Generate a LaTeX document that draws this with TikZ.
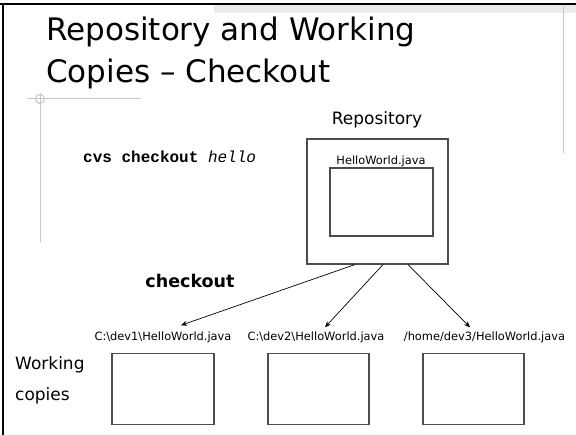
\documentclass[tikz,border=0pt]{standalone}
\usepackage{fontspec}
\setmainfont{DejaVu Sans}
\newfontfamily\monofont{Liberation Mono}
\usetikzlibrary{arrows.meta}
\tikzset{
  filebox/.style={draw=black!70, line width=1.1pt},
  deco/.style={draw=black!22, line width=1pt},
  arr/.style={draw=black, line width=0.7pt, -{Stealth[length=6pt,width=5pt]}},
  pathlbl/.style={font=\fontsize{11.4}{13}\selectfont, inner sep=0pt},
  biglbl/.style={font=\fontsize{17}{20}\selectfont, inner sep=0pt},
}
\begin{document}
\begin{tikzpicture}[x=1pt,y=-1pt]
\useasboundingbox (0,0) rectangle (576,435);
\fill[white] (0,0) rectangle (576,435);
% slide frame
\fill[black!8] (214,5) rectangle (576,13);
\draw[black, line width=2pt] (0,4) -- (576,4);
\draw[black, line width=2pt] (3,3) -- (3,435);
\draw[deco] (563,5) -- (563,153);
\draw[deco] (27,99) -- (141,99);
\draw[deco] (40,93) -- (40,242);
\draw[deco] (40,99) circle[radius=4.5];
% title
\node[anchor=base west, inner sep=0pt, font=\fontsize{31}{36}\selectfont] (t1) at (46,41) {Repository and Working};
\node[anchor=base west, inner sep=0pt, font=\fontsize{31}{36}\selectfont] (t2) at (46,83) {Copies -- Checkout};
% command
\node[anchor=west, inner sep=0pt, font=\monofont\fontsize{16}{18}\selectfont] (cmd) at (83,157) {\textbf{cvs checkout} \textit{hello}};
% repository
\node[biglbl] (repolbl) at (377,120) {Repository};
\node[filebox, minimum width=141pt, minimum height=125pt, inner sep=0pt] (repo) at (377.5,201.5) {};
\node[pathlbl] (hwlbl) at (381,161) {HelloWorld.java};
\node[filebox, minimum width=103pt, minimum height=68pt, inner sep=0pt] (hw) at (381.5,202) {};
% working copies
\node[pathlbl] (l1) at (163,337) {C:\textbackslash dev1\textbackslash HelloWorld.java};
\node[pathlbl] (l2) at (316,337) {C:\textbackslash dev2\textbackslash HelloWorld.java};
\node[pathlbl] (l3) at (484.5,337) {/home/dev3/HelloWorld.java};
\node[filebox, minimum width=102pt, minimum height=71pt, inner sep=0pt] (w1) at (163,389) {};
\node[filebox, minimum width=101pt, minimum height=71pt, inner sep=0pt] (w2) at (318.5,389) {};
\node[filebox, minimum width=101pt, minimum height=71pt, inner sep=0pt] (w3) at (473.5,389) {};
\node[biglbl, anchor=west] (wk) at (15,365) {Working};
\node[biglbl, anchor=west] (cp) at (15,396) {copies};
\node[font=\bfseries\fontsize{17.5}{20}\selectfont, inner sep=0pt] (co) at (190,281) {checkout};
% arrows
\coordinate (s1) at ([xshift=-22.5pt]repo.south);
\coordinate (s2) at ([xshift=5.5pt]repo.south);
\coordinate (s3) at ([xshift=30.5pt]repo.south);
\coordinate (e1) at ([xshift=18pt, yshift=6pt]l1.north);
\coordinate (e2) at ([xshift=9pt, yshift=4pt]l2.north);
\coordinate (e3) at ([xshift=-14.5pt, yshift=4pt]l3.north);
\draw[arr] (s1) -- (e1);
\draw[arr] (s2) -- (e2);
\draw[arr] (s3) -- (e3);
\end{tikzpicture}
\end{document}
